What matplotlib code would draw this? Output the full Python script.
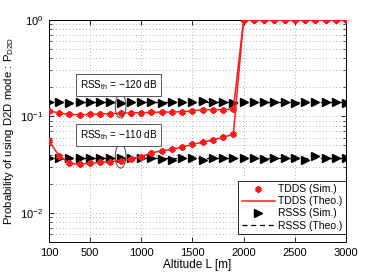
import matplotlib
matplotlib.use("Agg")
import matplotlib.pyplot as plt
from matplotlib.patches import Ellipse
from matplotlib.lines import Line2D

altitude = [100, 200, 300, 400, 500, 600, 700, 800, 900, 1000,
            1100, 1200, 1300, 1400, 1500, 1600, 1700, 1800, 1900, 2000,
            2100, 2200, 2300, 2400, 2500, 2600, 2700, 2800, 2900, 3000]

# RSS_th = -120 dB
tdds_sim_120 = [0.115, 0.108, 0.105, 0.104, 0.105, 0.106, 0.107, 0.1075, 0.109, 0.1095,
                0.110, 0.111, 0.111, 0.112, 0.114, 0.1175, 0.1175, 0.1175, 0.119, 1.0,
                1.0, 1.0, 1.0, 1.0, 1.0, 1.0, 1.0, 1.0, 1.0, 1.0]
tdds_theo_120 = [0.115, 0.108, 0.105, 0.104, 0.105, 0.106, 0.107, 0.1075, 0.109, 0.1095,
                 0.110, 0.111, 0.111, 0.112, 0.114, 0.1175, 0.1175, 0.1175, 0.119, 1.0,
                 1.0, 1.0, 1.0, 1.0, 1.0, 1.0, 1.0, 1.0, 1.0, 1.0]
rsss_sim_120 = [0.141, 0.140, 0.139, 0.141, 0.140, 0.140, 0.141, 0.139, 0.140, 0.141,
                0.140, 0.139, 0.140, 0.141, 0.140, 0.143, 0.140, 0.141, 0.139, 0.140,
                0.140, 0.141, 0.140, 0.142, 0.139, 0.140, 0.141, 0.140, 0.140, 0.139]
rsss_theo_120 = [0.140] * 30

# RSS_th = -110 dB
tdds_sim_110 = [0.056, 0.039, 0.0327, 0.032, 0.0327, 0.0335, 0.034, 0.0348, 0.0363, 0.0383,
                0.0419, 0.0439, 0.0455, 0.048, 0.0513, 0.054, 0.057, 0.0608, 0.0654, 1.0,
                1.0, 1.0, 1.0, 1.0, 1.0, 1.0, 1.0, 1.0, 1.0, 1.0]
tdds_theo_110 = [0.056, 0.039, 0.0327, 0.032, 0.0327, 0.0335, 0.034, 0.0348, 0.0363, 0.0383,
                 0.0419, 0.0439, 0.0455, 0.048, 0.0513, 0.054, 0.057, 0.0608, 0.0654, 1.0,
                 1.0, 1.0, 1.0, 1.0, 1.0, 1.0, 1.0, 1.0, 1.0, 1.0]
rsss_sim_110 = [0.037, 0.037, 0.0368, 0.037, 0.0372, 0.037, 0.0368, 0.037, 0.037, 0.0372,
                0.037, 0.0365, 0.0352, 0.037, 0.0372, 0.0355, 0.037, 0.037, 0.0368, 0.037,
                0.037, 0.0362, 0.037, 0.0372, 0.037, 0.0355, 0.039, 0.037, 0.037, 0.0368]
rsss_theo_110 = [0.037] * 30

xticks = [100, 500, 1000, 1500, 2000, 2500, 3000]
annot_x = 800
annot_labels = ["RSS$_{\\rm th}$ = \u2212120 dB", "RSS$_{\\rm th}$ = \u2212110 dB"]
annot_ell_y = [0.128, 0.0388]

plt.rcParams['font.family'] = ['Liberation Sans', 'DejaVu Sans']
plt.rcParams['mathtext.fontset'] = 'custom'
plt.rcParams['mathtext.rm'] = 'Liberation Sans'
plt.rcParams['mathtext.it'] = 'Liberation Sans:italic'

fig = plt.figure(figsize=(3.82, 2.73), dpi=100)
ax = fig.add_axes([0.128, 0.1136, 0.778, 0.8134])

red = '#ff1a1a'
ast = (6, 2, 0)

for tsim, tth, rsim, rth in [(tdds_sim_120, tdds_theo_120, rsss_sim_120, rsss_theo_120),
                             (tdds_sim_110, tdds_theo_110, rsss_sim_110, rsss_theo_110)]:
    ax.plot(altitude, rth, color='black', linestyle=(0, (4, 3)), linewidth=0.9, zorder=2)
    ax.plot(altitude, rsim, linestyle='none', marker='>', color='black',
            markersize=5.5, zorder=3)
    ax.plot(altitude, tth, color=red, linewidth=1.1, zorder=4)
    ax.plot(altitude, tsim, linestyle='none', marker=ast, color=red,
            markersize=4.5, markeredgewidth=1.6, zorder=5)

ax.set_yscale('log')
ax.set_xlim(100, 3000)
ax.set_ylim(5e-3, 1)
ax.set_xticks(xticks)
ax.set_xticklabels([str(t) for t in xticks])
ax.tick_params(axis='both', which='both', direction='in', top=True, right=True,
               labelsize=8, pad=4)
ax.tick_params(which='major', length=3.5, width=0.6)
ax.tick_params(which='minor', length=2, width=0.5)
ax.grid(True, which='major', axis='x', linestyle=(0, (1, 3)), color='#999999', linewidth=0.6)
ax.grid(True, which='both', axis='y', linestyle=(0, (1, 3)), color='#999999', linewidth=0.6)
for s in ax.spines.values():
    s.set_linewidth(0.7)

ax.set_xlabel('Altitude L [m]', fontsize=8.5, labelpad=1)
ax.set_ylabel('Probability of using D2D mode : P$_{\\rm D2D}$', fontsize=8.2, labelpad=3)

# annotations
to_axes = ax.transData + ax.transAxes.inverted()
ell_h = 0.108
for lab, yc in zip(annot_labels, annot_ell_y):
    cx, cy = to_axes.transform((annot_x, yc))
    e = Ellipse((cx, cy), width=0.036, height=ell_h, transform=ax.transAxes,
                fill=False, edgecolor='#444444', linewidth=0.7, zorder=6)
    ax.add_patch(e)
    top = cy + ell_h / 2
    ax.text(0.233, top + 0.042, lab, transform=ax.transAxes, fontsize=7.2,
            ha='center', va='center', zorder=7,
            bbox=dict(boxstyle='square,pad=0.4', facecolor='white',
                      edgecolor='#555555', linewidth=0.7))

# legend
handles = [
    Line2D([], [], linestyle='none', marker=ast, color=red, markersize=4.5, markeredgewidth=1.6),
    Line2D([], [], color=red, linewidth=1.1),
    Line2D([], [], linestyle='none', marker='>', color='black', markersize=5.5),
    Line2D([], [], color='black', linestyle=(0, (4, 3)), linewidth=0.9),
]
labels = ['TDDS (Sim.)', 'TDDS (Theo.)', 'RSSS (Sim.)', 'RSSS (Theo.)']
leg = ax.legend(handles, labels, loc='lower right', bbox_to_anchor=(1.0, 0.035),
                fontsize=7.5, frameon=True, fancybox=False, edgecolor='black',
                framealpha=1, borderaxespad=0.0, handlelength=3.2, labelspacing=0.2,
                borderpad=0.35, handletextpad=0.3)
leg.get_frame().set_linewidth(0.6)

fig.savefig('out.png', dpi=100)
